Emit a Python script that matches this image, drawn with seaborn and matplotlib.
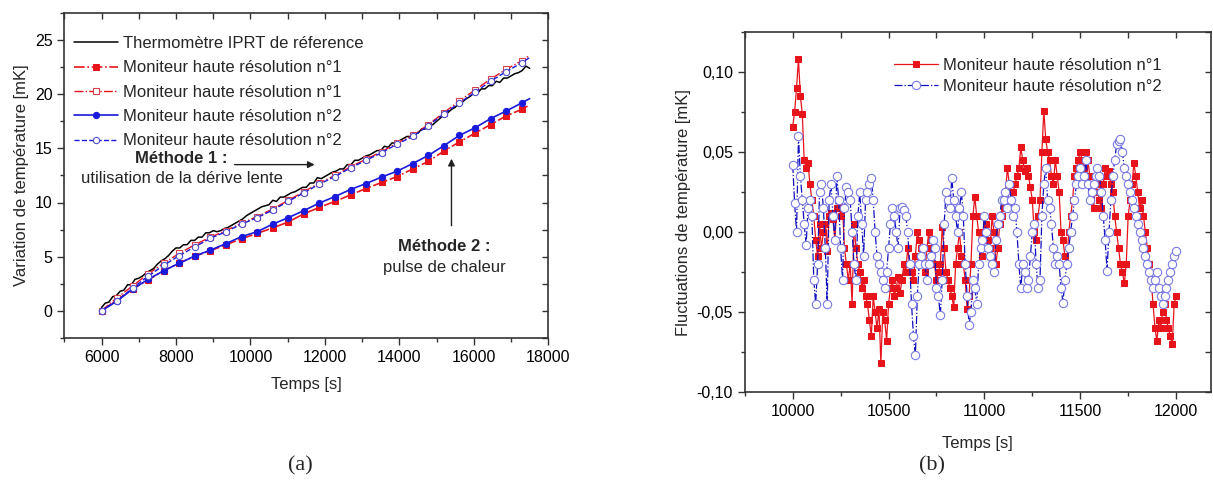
import numpy as np
import pandas as pd
import matplotlib
matplotlib.use("Agg")
import matplotlib.pyplot as plt
import seaborn as sns
from matplotlib.ticker import MultipleLocator, FuncFormatter

# ---------------- data : panel (a) ----------------
t_ref = np.arange(6000, 17501, 100)
ref_iprt = [0.3, 0.7, 0.8, 1.3, 1.4, 1.8, 1.9, 2.4, 2.4, 2.9,
            3.0, 3.2, 3.5, 3.7, 3.9, 4.3, 4.6, 4.8, 5.1, 5.5,
            5.8, 5.8, 6.1, 6.1, 6.5, 6.5, 6.8, 6.8, 7.2, 7.2,
            7.4, 7.3, 7.4, 7.6, 7.7, 7.9, 8.1, 8.3, 8.5, 8.8,
            9.0, 9.2, 9.4, 9.6, 9.7, 9.8, 10.2, 10.1, 10.5, 10.5,
            10.7, 10.9, 11.0, 11.2, 11.4, 11.4, 11.8, 11.8, 12.3, 12.2,
            12.4, 12.6, 12.8, 12.9, 13.1, 13.1, 13.5, 13.5, 13.9, 13.9,
            14.1, 14.3, 14.4, 14.6, 14.8, 14.8, 15.2, 15.1, 15.5, 15.5,
            15.7, 15.9, 16.1, 16.1, 16.4, 16.4, 16.8, 16.8, 17.1, 17.2,
            17.5, 17.8, 18.1, 18.3, 18.6, 18.8, 19.2, 19.3, 19.6, 19.8,
            20.1, 20.1, 20.5, 20.5, 20.8, 20.8, 21.2, 21.1, 21.5, 21.5,
            21.7, 21.9, 22.0, 22.2, 22.6, 22.4]

t_mon = [6000, 6418, 6836, 7254, 7672, 8090, 8508, 8926, 9344, 9762,
         10180, 10598, 11016, 11434, 11852, 12270, 12688, 13106, 13524, 13942,
         14360, 14778, 15196, 15614, 16032, 16450, 16868, 17286, 17500]
mon1_pulse = [0.0, 1.0, 2.0, 2.85, 3.7, 4.4, 5.05, 5.55, 6.1, 6.65,
              7.15, 7.65, 8.2, 8.95, 9.55, 10.1, 10.7, 11.3, 11.85, 12.4,
              13.1, 13.8, 14.75, 15.6, 16.4, 17.2, 18.0, 18.6, 19.0]
mon1_drift = [0.0, 1.2, 2.3, 3.4, 4.4, 5.3, 6.1, 6.8, 7.4, 8.1,
              8.7, 9.4, 10.2, 11.0, 11.8, 12.5, 13.3, 14.0, 14.7, 15.5,
              16.2, 17.2, 18.3, 19.4, 20.4, 21.4, 22.3, 23.1, 23.6]
mon2_pulse = [0.0, 0.9, 2.0, 2.9, 3.7, 4.4, 5.05, 5.6, 6.2, 6.85,
              7.3, 8.0, 8.6, 9.25, 9.95, 10.55, 11.2, 11.75, 12.35, 12.9,
              13.6, 14.35, 15.25, 16.2, 16.9, 17.75, 18.45, 19.2, 19.6]
mon2_drift = [0.0, 0.9, 2.1, 3.2, 4.2, 5.1, 5.9, 6.7, 7.3, 8.0,
              8.6, 9.3, 10.1, 10.9, 11.7, 12.4, 13.2, 13.9, 14.6, 15.4,
              16.1, 17.1, 18.2, 19.2, 20.2, 21.2, 22.1, 22.9, 23.4]

legend_a = ["Thermomètre IPRT de réference",
            "Moniteur haute résolution n°1",
            "Moniteur haute résolution n°1",
            "Moniteur haute résolution n°2",
            "Moniteur haute résolution n°2"]

# ---------------- data : panel (b) ----------------
t_fluct = np.arange(10000, 12001, 10)
fluct_mon1 = [
    0.066, 0.075, 0.090, 0.108, 0.085, 0.074, 0.045, 0.040, 0.043, 0.030,
    0.020, 0.010, -0.005, -0.015, 0.005, -0.010, 0.000, 0.005, -0.012, 0.010,
    0.012, 0.008, -0.005, 0.015, 0.020, 0.010, 0.016, -0.010, -0.020, -0.030,
    -0.020, -0.045, 0.005, -0.010, -0.020, -0.025, -0.035, -0.030, -0.040, -0.045,
    -0.055, -0.065, -0.040, -0.050, -0.060, -0.048, -0.082, -0.050, -0.055, -0.068,
    -0.045, -0.035, -0.030, -0.040, -0.035, -0.028, -0.038, -0.030, -0.020, -0.025,
    -0.010, -0.020, -0.025, -0.030, -0.015, 0.000, -0.005, -0.010, -0.020, -0.025,
    -0.010, 0.000, -0.005, -0.010, -0.020, -0.030, -0.025, -0.020, 0.003, -0.010,
    -0.025, -0.030, -0.035, -0.040, -0.047, -0.020, -0.010, 0.000, -0.015, -0.020,
    -0.030, -0.048, -0.040, -0.020, 0.010, 0.022, 0.010, 0.000, -0.010, -0.015,
    0.000, 0.005, -0.005, -0.010, 0.010, 0.000, -0.020, -0.010, 0.005, 0.010,
    0.015, 0.025, 0.040, 0.030, 0.020, 0.025, 0.030, 0.035, 0.040, 0.053,
    0.045, 0.038, 0.040, 0.035, 0.028, 0.020, 0.000, -0.005, 0.010, 0.020,
    0.050, 0.076, 0.058, 0.050, 0.045, 0.035, 0.030, 0.045, 0.035, 0.025,
    0.000, -0.005, -0.015, -0.020, 0.000, 0.010, 0.020, 0.035, 0.040, 0.045,
    0.050, 0.045, 0.040, 0.050, 0.045, 0.035, 0.025, 0.015, 0.030, 0.025,
    0.020, 0.015, 0.030, 0.040, 0.035, 0.038, 0.030, 0.025, 0.010, 0.000,
    -0.010, -0.020, -0.025, -0.032, -0.020, 0.010, 0.020, 0.030, 0.043, 0.035,
    0.025, 0.015, 0.020, 0.010, 0.000, -0.010, -0.020, -0.030, -0.045, -0.060,
    -0.068, -0.055, -0.060, -0.050, -0.045, -0.055, -0.060, -0.065, -0.070, -0.045,
    -0.040]
fluct_mon2 = [
    0.042, 0.018, 0.000, 0.060, 0.035, 0.020, 0.005, -0.008, 0.015, 0.020,
    0.010, -0.030, -0.045, -0.020, 0.025, 0.030, 0.015, -0.010, -0.045, 0.020,
    0.030, 0.010, -0.005, 0.035, 0.020, -0.010, -0.030, 0.015, 0.028, 0.025,
    0.020, 0.000, -0.020, -0.030, 0.010, 0.025, 0.005, -0.015, 0.020, 0.025,
    0.030, 0.034, 0.020, 0.000, -0.015, -0.020, -0.025, -0.030, -0.035, -0.025,
    -0.010, 0.005, 0.015, 0.010, 0.000, -0.010, 0.015, 0.016, 0.014, 0.010,
    0.000, -0.020, -0.045, -0.065, -0.077, -0.040, -0.020, -0.015, -0.010, -0.020,
    -0.030, -0.020, -0.015, -0.005, -0.010, -0.035, -0.040, -0.052, -0.030, 0.005,
    0.025, 0.020, 0.015, 0.034, 0.020, 0.010, 0.000, 0.015, 0.025, 0.010,
    -0.020, -0.040, -0.058, -0.050, -0.030, -0.035, -0.045, -0.020, -0.010, -0.005,
    0.010, 0.000, -0.010, -0.015, -0.020, -0.025, -0.005, 0.005, 0.010, 0.020,
    0.020, 0.025, 0.015, 0.030, 0.020, 0.010, 0.015, 0.000, -0.020, -0.035,
    -0.020, -0.025, -0.035, -0.030, -0.015, 0.000, 0.005, -0.020, -0.035, -0.030,
    0.010, 0.030, 0.040, 0.020, 0.015, 0.005, -0.010, -0.020, -0.015, -0.020,
    -0.035, -0.044, -0.030, -0.020, -0.010, 0.000, 0.010, 0.020, 0.030, 0.035,
    0.040, 0.030, 0.035, 0.045, 0.030, 0.020, 0.025, 0.030, 0.035, 0.040,
    0.035, 0.025, 0.010, -0.005, -0.024, 0.000, 0.020, 0.035, 0.045, 0.055,
    0.057, 0.058, 0.050, 0.040, 0.035, 0.030, 0.025, 0.020, 0.015, 0.010,
    0.005, 0.000, -0.005, -0.010, -0.015, -0.020, -0.025, -0.030, -0.035, -0.030,
    -0.025, -0.035, -0.040, -0.045, -0.040, -0.035, -0.030, -0.025, -0.020, -0.015,
    -0.012]
legend_b = ["Moniteur haute résolution n°1", "Moniteur haute résolution n°2"]

# ---------------- style ----------------
sns.set_style("ticks")
plt.rcParams["font.family"] = ["Liberation Sans", "DejaVu Sans"]
plt.rcParams["axes.edgecolor"] = "#333333"
plt.rcParams["axes.linewidth"] = 1.2

fig = plt.figure(figsize=(12.13, 4.86), dpi=100)
ax1 = fig.add_axes([0.053, 0.305, 0.399, 0.668])
ax2 = fig.add_axes([0.614, 0.193, 0.384, 0.741])

RED = "#e8141c"
BLUE = "#1a1adc"

# ----- panel (a)
sns.lineplot(x=t_ref, y=ref_iprt, ax=ax1, color="black", lw=1.1,
             label=legend_a[0], sort=False, estimator=None)
sns.lineplot(x=t_mon, y=mon1_pulse, ax=ax1, color=RED, lw=1.2, linestyle="-.",
             marker="s", markersize=4.5, markerfacecolor=RED, markeredgecolor=RED,
             markevery=slice(0, 28), label=legend_a[1], sort=False, estimator=None)
sns.lineplot(x=t_mon, y=mon1_drift, ax=ax1, color=RED, lw=1.0, linestyle="-.",
             marker="s", markersize=4.5, markerfacecolor="white", markeredgecolor="#d84050",
             markeredgewidth=0.8, markevery=slice(0, 28), label=legend_a[2],
             sort=False, estimator=None)
sns.lineplot(x=t_mon, y=mon2_pulse, ax=ax1, color=BLUE, lw=1.2, linestyle="-",
             marker="o", markersize=4.5, markerfacecolor=BLUE, markeredgecolor=BLUE,
             markevery=slice(0, 28), label=legend_a[3], sort=False, estimator=None)
sns.lineplot(x=t_mon, y=mon2_drift, ax=ax1, color=BLUE, lw=1.0, linestyle="--",
             marker="o", markersize=4.5, markerfacecolor="white", markeredgecolor="#5050d0",
             markeredgewidth=0.8, markevery=slice(0, 28), label=legend_a[4],
             sort=False, estimator=None)

ax1.set_xlim(5000, 18000)
ax1.set_ylim(-2.5, 27.5)
ax1.xaxis.set_major_locator(MultipleLocator(2000))
ax1.xaxis.set_minor_locator(MultipleLocator(1000))
ax1.yaxis.set_major_locator(MultipleLocator(5))
ax1.yaxis.set_minor_locator(MultipleLocator(2.5))
ax1.set_xlabel("Temps [s]", fontsize=12, labelpad=9)
ax1.set_ylabel("Variation de température [mK]", fontsize=12, labelpad=4)
ax1.legend(loc="upper left", frameon=False, fontsize=12, handlelength=2.6,
           handletextpad=0.3, labelspacing=0.56, borderaxespad=0.2,
           bbox_to_anchor=(0.0, 0.96))
ax1.annotate("", xy=(11800, 13.5), xytext=(9500, 13.5),
             arrowprops=dict(arrowstyle="-|>", color="#222222", lw=1.0, mutation_scale=10))
ax1.text(8150, 14.1, "Méthode 1 :", fontsize=12, fontweight="bold", ha="center", va="center")
ax1.text(8150, 12.2, "utilisation de la dérive lente", fontsize=12, ha="center", va="center")
ax1.annotate("", xy=(15400, 14.3), xytext=(15400, 7.6),
             arrowprops=dict(arrowstyle="-|>", color="#222222", lw=1.0, mutation_scale=10))
ax1.text(15200, 5.9, "Méthode 2 :", fontsize=12, fontweight="bold", ha="center", va="center")
ax1.text(15200, 4.0, "pulse de chaleur", fontsize=12, ha="center", va="center")

# ----- panel (b)
sns.lineplot(x=t_fluct, y=fluct_mon1, ax=ax2, color=RED, lw=0.9, linestyle="-",
             marker="s", markersize=5, markerfacecolor=RED, markeredgecolor=RED,
             label=legend_b[0], sort=False, estimator=None)
sns.lineplot(x=t_fluct, y=fluct_mon2, ax=ax2, color="#1010c0", lw=0.9, linestyle="-.",
             marker="o", markersize=6, markerfacecolor="white", markeredgecolor="#7a7ae6",
             markeredgewidth=0.8, label=legend_b[1], sort=False, estimator=None)

ax2.set_xlim(9750, 12180)
ax2.set_ylim(-0.10, 0.125)
ax2.xaxis.set_major_locator(MultipleLocator(500))
ax2.xaxis.set_minor_locator(MultipleLocator(250))
ax2.yaxis.set_major_locator(MultipleLocator(0.05))
ax2.yaxis.set_minor_locator(MultipleLocator(0.025))
ax2.yaxis.set_major_formatter(FuncFormatter(lambda v, p: f"{v:.2f}".replace(".", ",")))
ax2.set_xlabel("Temps [s]", fontsize=12, labelpad=12)
ax2.set_ylabel("Fluctuations de température [mK]", fontsize=12, labelpad=4)
ax2.legend(loc="upper right", frameon=False, fontsize=12, handlelength=2.6,
           handletextpad=0.3, labelspacing=0.35, bbox_to_anchor=(0.927, 0.97))

for ax in (ax1, ax2):
    for s in ax.spines.values():
        s.set_visible(True)
    ax.tick_params(which="major", direction="out", length=5, width=1.0,
                   labelsize=11.5, colors="#333333", labelcolor="black")
    ax.tick_params(which="minor", direction="out", length=3, width=1.0, colors="#333333")
    sx = ax.secondary_xaxis("top")
    sx.xaxis.set_major_locator(ax.xaxis.get_minor_locator())
    sx.tick_params(direction="in", length=4, width=1.0, labeltop=False, colors="#333333")
    sx.spines["top"].set_visible(False)
    sy = ax.secondary_yaxis("right")
    sy.yaxis.set_major_locator(ax.yaxis.get_minor_locator())
    sy.tick_params(direction="in", length=4, width=1.0, labelright=False, colors="#333333")
    sy.spines["right"].set_visible(False)

fig.text(0.248, 0.042, "(a)", fontsize=16, family=["Liberation Serif", "DejaVu Serif"],
         ha="center", va="center")
fig.text(0.768, 0.042, "(b)", fontsize=16, family=["Liberation Serif", "DejaVu Serif"],
         ha="center", va="center")

fig.savefig("out.png", dpi=100)
